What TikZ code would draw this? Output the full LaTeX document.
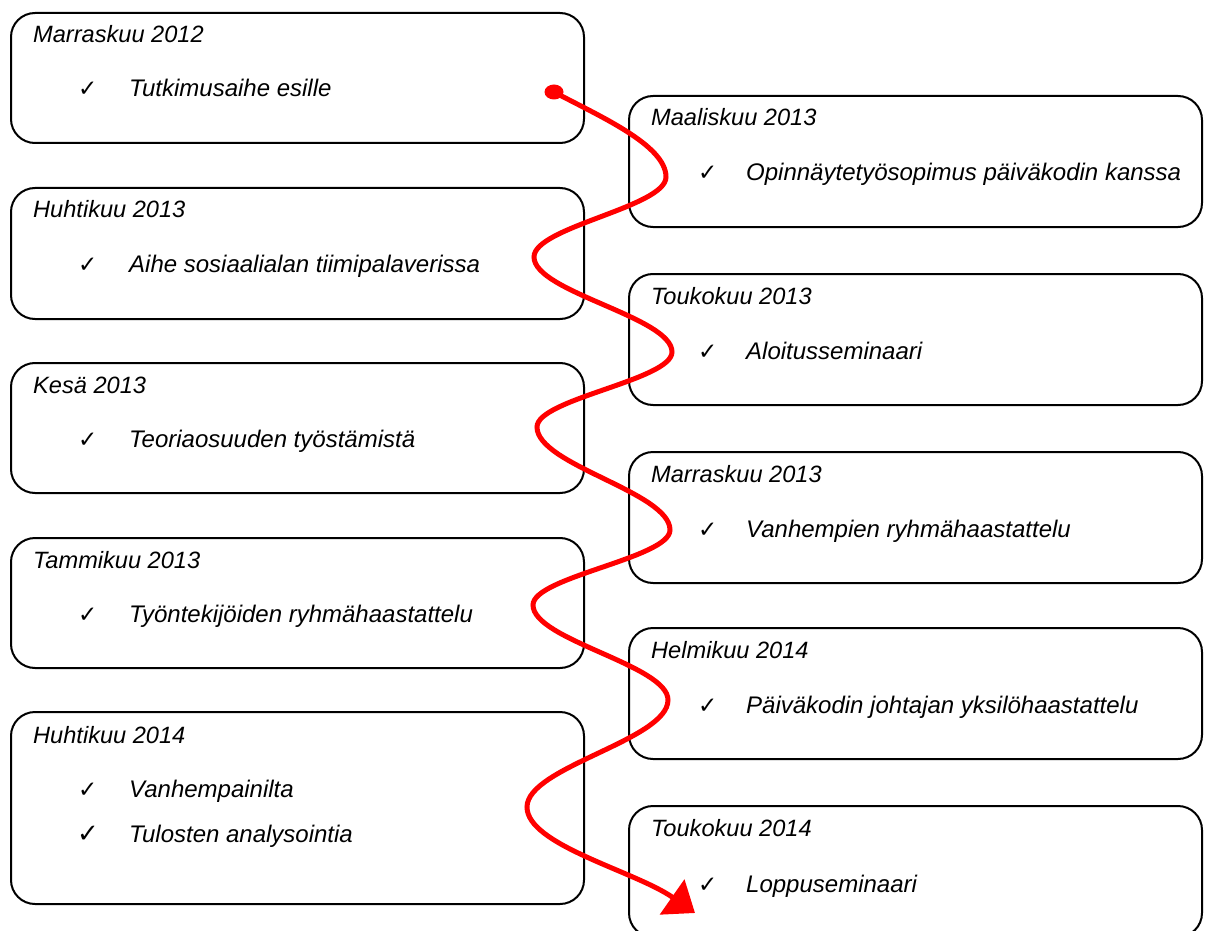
\documentclass[tikz,border=0pt]{standalone}
\usepackage{fontspec}
\setmainfont{Liberation Sans}
\newfontfamily\chkfont{DejaVu Sans}
\usetikzlibrary{arrows.meta,calc,shapes.geometric}
\tikzset{
  box/.style={draw=black, line width=2pt, rounded corners=24pt, minimum width=573pt,
    minimum height=#1, anchor=north west, inner sep=0pt, fill=white},
  box/.default=131pt,
  ttl/.style={anchor=base west, inner sep=0pt, font=\fontsize{23.6}{28}\selectfont\itshape},
  itm/.style={anchor=base west, inner sep=0pt, font=\fontsize{24}{28}\selectfont\itshape},
  chk/.style={anchor=base west, inner sep=0pt, font=\fontsize{23}{26}\selectfont\chkfont},
  bigchk/.style={anchor=base west, inner sep=0pt, font=\fontsize{26}{28}\selectfont\chkfont},
  road/.style={draw=red, line width=5pt, line cap=round},
}
\begin{document}
\begin{tikzpicture}[x=1pt,y=-1pt]
\useasboundingbox (0,0) rectangle (1208,931);
% left column boxes
\node[box=130pt] (L1) at (10,12) {};
\node[box=131pt] (L2) at (10,187) {};
\node[box=130pt] (L3) at (10,362) {};
\node[box=130pt] (L4) at (10,537) {};
\node[box=192pt] (L5) at (10,711) {};
% right column boxes
\node[box] (R1) at (628,95) {};
\node[box] (R2) at (628,273) {};
\node[box] (R3) at (628,451) {};
\node[box] (R4) at (628,627) {};
\node[box] (R5) at (628,805) {};
% texts left
\node[ttl] (L1t) at ($(L1.north west)+(23,31)$) {Marraskuu 2012};
\node[chk] (L1c) at ($(L1.north west)+(68,85)$) {✓};
\node[itm] (L1i) at ($(L1.north west)+(119,85)$) {Tutkimusaihe esille};
\node[ttl] (L2t) at ($(L2.north west)+(23,31)$) {Huhtikuu 2013};
\node[chk] (L2c) at ($(L2.north west)+(68,85)$) {✓};
\node[itm] (L2i) at ($(L2.north west)+(119,85)$) {Aihe sosiaalialan tiimipalaverissa};
\node[ttl] (L3t) at ($(L3.north west)+(23,31)$) {Kesä 2013};
\node[chk] (L3c) at ($(L3.north west)+(68,85)$) {✓};
\node[itm] (L3i) at ($(L3.north west)+(119,85)$) {Teoriaosuuden työstämistä};
\node[ttl] (L4t) at ($(L4.north west)+(23,31)$) {Tammikuu 2013};
\node[chk] (L4c) at ($(L4.north west)+(68,85)$) {✓};
\node[itm] (L4i) at ($(L4.north west)+(119,85)$) {Työntekijöiden ryhmähaastattelu};
\node[ttl] (L5t) at ($(L5.north west)+(23,32)$) {Huhtikuu 2014};
\node[chk] (L5c) at ($(L5.north west)+(68,86)$) {✓};
\node[itm] (L5i) at ($(L5.north west)+(119,86)$) {Vanhempainilta};
\node[bigchk] (L5d) at ($(L5.north west)+(67,131)$) {✓};
\node[itm] (L5j) at ($(L5.north west)+(119,131)$) {Tulosten analysointia};
% texts right
\node[ttl] (R1t) at ($(R1.north west)+(23,31)$) {Maaliskuu 2013};
\node[chk] (R1c) at ($(R1.north west)+(70,86)$) {✓};
\node[itm] (R1i) at ($(R1.north west)+(118,86)$) {Opinnäytetyösopimus päiväkodin kanssa};
\node[ttl] (R2t) at ($(R2.north west)+(23,31)$) {Toukokuu 2013};
\node[chk] (R2c) at ($(R2.north west)+(70,86)$) {✓};
\node[itm] (R2i) at ($(R2.north west)+(118,86)$) {Aloitusseminaari};
\node[ttl] (R3t) at ($(R3.north west)+(23,31)$) {Marraskuu 2013};
\node[chk] (R3c) at ($(R3.north west)+(70,86)$) {✓};
\node[itm] (R3i) at ($(R3.north west)+(118,86)$) {Vanhempien ryhmähaastattelu};
\node[ttl] (R4t) at ($(R4.north west)+(23,31)$) {Helmikuu 2014};
\node[chk] (R4c) at ($(R4.north west)+(70,86)$) {✓};
\node[itm] (R4i) at ($(R4.north west)+(118,86)$) {Päiväkodin johtajan yksilöhaastattelu};
\node[ttl] (R5t) at ($(R5.north west)+(23,31)$) {Toukokuu 2014};
\node[chk] (R5c) at ($(R5.north west)+(70,87)$) {✓};
\node[itm] (R5i) at ($(R5.north west)+(118,87)$) {Loppuseminaari};
% red winding path
\node[ellipse, fill=red, inner sep=0pt, minimum width=19pt, minimum height=15pt] (dot) at (554,92) {};
\coordinate (p1) at (666,177);
\coordinate (p2) at (534,257);
\coordinate (p3) at (672,352);
\coordinate (p4) at (537,427);
\coordinate (p5) at (670,530);
\coordinate (p6) at (533,605);
\coordinate (p7) at (668,700);
\coordinate (p8) at (527,807);
\coordinate (e) at (695,913);
\draw[road, -{Triangle[length=28pt,width=42pt]}] (dot.center)
  .. controls +(45,24) and +(0,-32) .. (p1)
  .. controls +(0,30) and +(0,-30) .. (p2)
  .. controls +(0,35) and +(0,-35) .. (p3)
  .. controls +(0,28) and +(0,-28) .. (p4)
  .. controls +(0,38) and +(0,-38) .. (p5)
  .. controls +(0,28) and +(0,-28) .. (p6)
  .. controls +(0,35) and +(0,-35) .. (p7)
  .. controls +(0,40) and +(0,-40) .. (p8)
  .. controls +(0,38) and +(-60,-42) .. (e);
\end{tikzpicture}
\end{document}
